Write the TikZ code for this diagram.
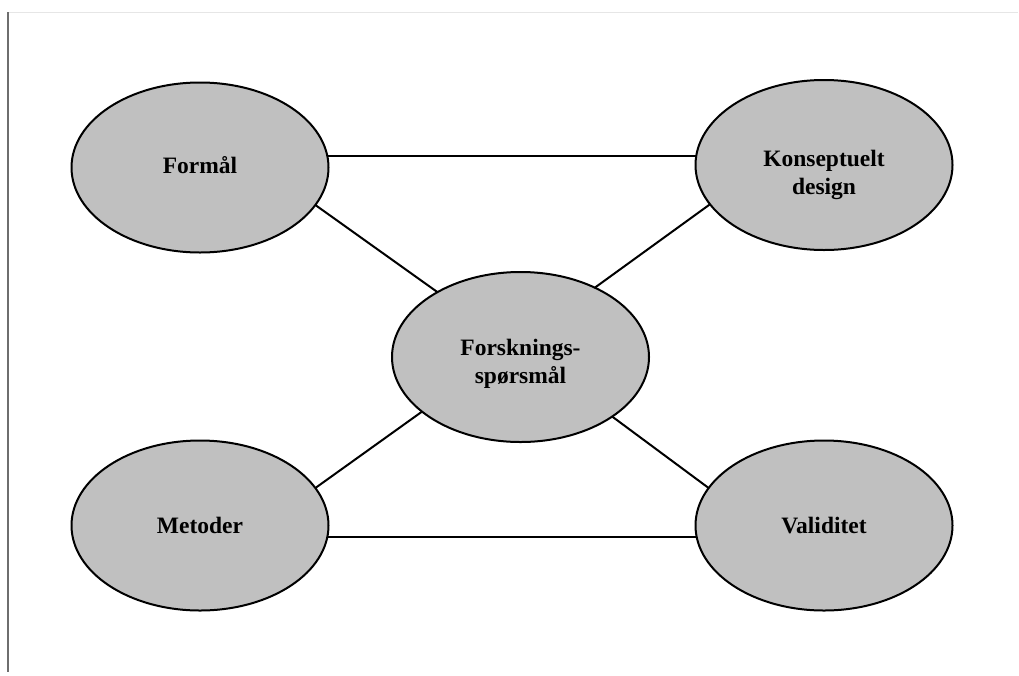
\documentclass[tikz,border=0pt]{standalone}
\usepackage{fontspec}
\setmainfont{Liberation Serif}
\usetikzlibrary{shapes.geometric}
\definecolor{ovalfill}{HTML}{C0C0C0}
\definecolor{frameleft}{HTML}{6E6E6E}
\definecolor{frametop}{HTML}{E6E6E6}
\newcommand{\onel}[2]{\raisebox{#1}[0pt][0pt]{#2}}
\newcommand{\twol}[3]{\raisebox{#1}[0pt][0pt]{\begin{tabular}[t]{@{}c@{}}#2\\#3\end{tabular}}}
\begin{document}
\begin{tikzpicture}[x=1pt,y=-1pt,
  oval/.style={ellipse, draw=black, line width=2pt, fill=ovalfill,
    minimum width=257pt, minimum height=170pt, inner sep=0pt, outer sep=0pt,
    font=\fontsize{23.5}{28}\selectfont\bfseries},
  link/.style={draw=black, line width=2pt}]
\useasboundingbox (0,0) rectangle (1019,675);
\draw[frametop, line width=1pt] (8,12) -- (1018,12);
\draw[frameleft, line width=1.2pt] (8,12) -- (8,672);
\node[oval] (F) at (200,167.5) {\onel{-6pt}{Formål}};
\node[oval] (K) at (824,165) {\twol{-1pt}{Konseptuelt}{design}};
\node[oval] (C) at (520.5,357) {\twol{2pt}{Forsknings-}{spørsmål}};
\node[oval] (M) at (200,525.5) {\onel{-7.5pt}{Metoder}};
\node[oval] (V) at (824,525.5) {\onel{-7.5pt}{Validitet}};
\draw[link] (F.5.6) -- (F.5.6 -| K.west);
\draw[link] (M.-5.16) -- (M.-5.16 -| V.west);
\draw[link] (F.-18.1) -- (C.142.8);
\draw[link] (K.199.3) -- (C.43.2);
\draw[link] (M.18.2) -- (C.209.2);
\draw[link] (V.162.1) -- (C.-33.8);
\end{tikzpicture}
\end{document}
